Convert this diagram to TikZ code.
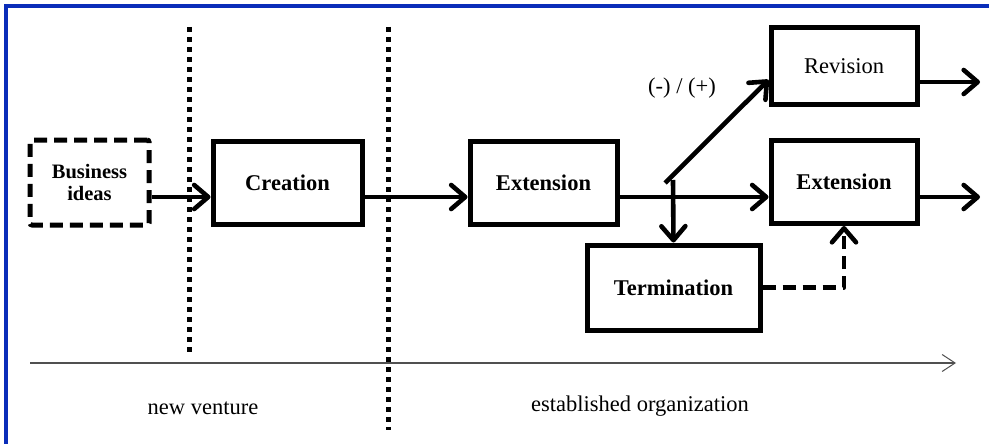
\documentclass[tikz,border=0pt]{standalone}
\usepackage{fontspec}
\setmainfont{Liberation Serif}
\usetikzlibrary{arrows.meta}

\definecolor{frameblue}{RGB}{10,45,185}
\definecolor{axisgray}{RGB}{80,80,80}

\tikzset{
  stagebox/.style={draw, line width=5pt, rectangle, minimum height=83pt,
    inner sep=2pt, font=\fontsize{22.5}{26}\selectfont\bfseries},
  flow/.style={line width=4.6pt, line join=round,
    -{Straight Barb[length=14pt,width=24pt,line join=round,line cap=round]}},
  dashflow/.style={flow, dash pattern=on 13pt off 7pt},
  phaseline/.style={line width=5pt, dash pattern=on 5pt off 5pt},
  timeaxis/.style={axisgray, line width=1.4pt,
    -{Straight Barb[length=13pt,width=17pt,line width=1pt]}},
  phaselabel/.style={font=\fontsize{22.5}{26}\selectfont, inner sep=0pt},
}

\begin{document}
\begin{tikzpicture}[x=1pt,y=-1pt]
  \useasboundingbox[fill=white] (0,0) rectangle (989,444);

  % frame
  \draw[frameblue, line width=3.2pt] (6,444) -- (6,6) -- (989,6);

  % phase separators
  \coordinate (sepAtop) at (189,27);
  \coordinate (sepAbot) at (189,354);
  \coordinate (sepBtop) at (388,27);
  \coordinate (sepBbot) at (388,430);
  \draw[phaseline] (sepAtop) -- (sepAbot);
  \draw[phaseline] (sepBtop) -- (sepBbot);

  % stages
  \node[stagebox, dashed, dash pattern=on 13pt off 7pt, rounded corners=2pt,
        minimum width=119pt, minimum height=85pt, align=center,
        font=\fontsize{20.5}{22}\selectfont\bfseries]
        (biz) at (89.5,182.5) {Business\\ideas};
  \node[stagebox, minimum width=149pt] (cre) at (287.5,182.5) {Creation};
  \node[stagebox, minimum width=147pt] (ext) at (543.5,182.5) {Extension};
  \node[stagebox, minimum width=146pt, minimum height=77pt,
        font=\fontsize{22.5}{26}\selectfont] (rev) at (844,66.5) {Revision};
  \node[stagebox, minimum width=146pt] (extb) at (844,182) {Extension};
  \node[stagebox, minimum width=173pt, minimum height=85pt] (term) at (673.5,287.5) {Termination};

  % main stream
  \coordinate (mainrow) at (0,197);
  \coordinate (outB) at (980,197);
  \coordinate (outA) at (980,82);
  \coordinate (forkDiag) at (665,183);
  \coordinate (forkDown) at (673,180);

  \draw[flow] (biz.east|-mainrow) -- (cre.west|-mainrow);
  \draw[flow] (cre.east|-mainrow) -- (ext.west|-mainrow);
  \draw[flow] (ext.east|-mainrow) -- (extb.west|-mainrow);
  \draw[flow] (extb.east|-mainrow) -- (outB);
  \draw[flow] (rev.east|-outA) -- (outA);

  % branches
  \draw[flow] (forkDiag) -- (rev.190);
  \draw[flow] (forkDown) -- (term.north);
  \draw[dashflow] (term.east) -| (extb.south);

  \node[phaselabel] (sign) at (682,88) {(-) / (+)};

  % time axis
  \coordinate (axisL) at (30,363);
  \coordinate (axisR) at (956,363);
  \draw[timeaxis] (axisL) -- (axisR);

  \node[phaselabel] (nv) at (203,408) {new venture};
  \node[phaselabel] (eo) at (640,406) {established organization};
\end{tikzpicture}
\end{document}
